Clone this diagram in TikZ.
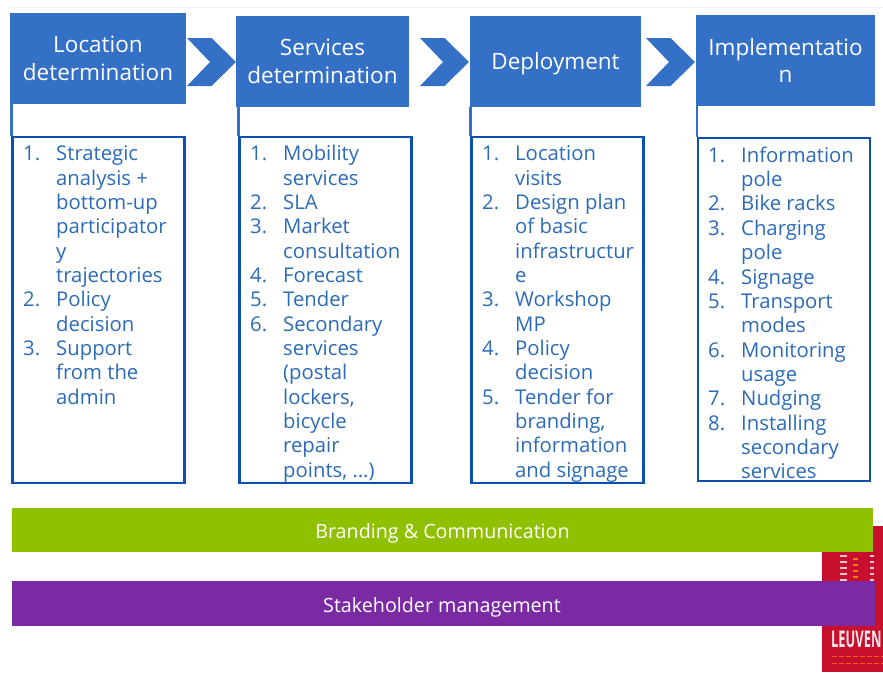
\documentclass[tikz,border=0pt]{standalone}
\usepackage{fontspec}
\setmainfont{Open Sans}
\definecolor{stepblue}{HTML}{3370C6}
\definecolor{listblue}{HTML}{0B50AE}
\definecolor{itemblue}{HTML}{2C6BB8}
\definecolor{bargreen}{HTML}{8FC100}
\definecolor{barpurple}{HTML}{7A2AA3}
\definecolor{logored}{HTML}{C8102E}
\newcommand{\lineh}{24.35}
\begin{document}
\begin{tikzpicture}[x=1pt,y=-1pt]
            \tikzstyle{stepbox}=[fill=stepblue,text=white,align=center,inner sep=0pt,font=\fontsize{22.5}{27.5}\selectfont]
            \tikzstyle{listbox}=[draw=listblue,line width=2.2pt,fill=white,minimum width=172pt,inner sep=0pt]
            \tikzstyle{chevron}=[fill=stepblue]
            \tikzstyle{num}=[anchor=north west,inner sep=0pt,text=itemblue,font=\fontsize{20.3}{24.35}\selectfont,execute at begin node=\strut]
            \tikzstyle{item}=[anchor=north west,inner sep=0pt,text=itemblue,align=left,font=\fontsize{20.3}{24.35}\selectfont]
            \tikzstyle{band}=[text=white,minimum width=861pt,minimum height=44pt,inner sep=0pt,text height=17pt,text depth=0pt,font=\fontsize{19.7}{22}\selectfont]
            \useasboundingbox (0,0) rectangle (883,672);
            \draw[black!6,line width=1pt] (10,7.5) -- (883,7.5);
            % logo
            \fill[logored] (822,526) rectangle (883,672);
            \foreach \y in {556,562,...,616} {
                \draw[white!75!logored,line width=2.5pt] (840,\y) -- (847,\y);
                \draw[orange,line width=1.5pt] (853,\y+3) -- (858,\y+3);
                \draw[white!75!logored,line width=1.5pt] (870,\y) -- (874,\y);
            }
            \node[inner sep=0pt,anchor=west,text=white!90!logored,font=\bfseries\fontsize{23}{24}\selectfont] (logo) at (831,639) {\scalebox{0.56}[1]{LEUVEN}};
            \foreach \y in {656,663} {
                \draw[orange!70!logored,line width=1pt,dash pattern=on 5pt off 2pt] (832,\y) -- (883,\y);
            }
            % steps
            \node[stepbox,minimum width=176pt,minimum height=91pt] (s1) at (98,58.5) {Location\\determination};
            \node[stepbox,minimum width=173pt,minimum height=91pt] (s2) at (322.5,61.5) {Services\\determination};
            \node[stepbox,minimum width=171pt,minimum height=91pt,text height=15pt,text depth=0pt] (s3) at (555.5,61.5) {Deployment};
            \node[stepbox,minimum width=179pt,minimum height=91pt] (s4) at (785.5,60.5) {Implementatio\\n};
            % chevrons
            \foreach \x in {187,420,646} {
                \fill[chevron] (\x,38) -- (\x+24.5,38) -- (\x+49,62) -- (\x+24.5,86) -- (\x,86) -- (\x+23,62) -- cycle;
            }
            % lists
            \node[listbox,minimum height=346pt] (l1) at (98.5,310) {};
            \node[listbox,minimum height=346pt] (l2) at (325.5,310) {};
            \node[listbox,minimum height=346pt] (l3) at (557.5,310) {};
            \node[listbox,minimum height=343pt] (l4) at (784,309.5) {};
            \foreach \a/\b in {s1/l1,s2/l2,s3/l3,s4/l4} {
                \draw[stepblue,line width=2.2pt] (\a.south -| \b.north west) -- (\b.north west);
            }
            % items of list 1
            \node[num] (n11) at (23,143.5) {1.};
            \node[item] (t11) at (56,143.5) {\strut Strategic\\analysis +\\bottom-up\\participator\\y\\trajectories};
            \node[num] (n12) at (23,143.5+6*\lineh) {2.};
            \node[item] (t12) at (56,143.5+6*\lineh) {\strut Policy\\decision};
            \node[num] (n13) at (23,143.5+8*\lineh) {3.};
            \node[item] (t13) at (56,143.5+8*\lineh) {\strut Support\\from the\\admin};
            % items of list 2
            \node[num] (n21) at (250,143.5) {1.};
            \node[item] (t21) at (283,143.5) {\strut Mobility\\services};
            \node[num] (n22) at (250,143.5+2*\lineh) {2.};
            \node[item] (t22) at (283,143.5+2*\lineh) {\strut SLA};
            \node[num] (n23) at (250,143.5+3*\lineh) {3.};
            \node[item] (t23) at (283,143.5+3*\lineh) {\strut Market\\consultation};
            \node[num] (n24) at (250,143.5+5*\lineh) {4.};
            \node[item] (t24) at (283,143.5+5*\lineh) {\strut Forecast};
            \node[num] (n25) at (250,143.5+6*\lineh) {5.};
            \node[item] (t25) at (283,143.5+6*\lineh) {\strut Tender};
            \node[num] (n26) at (250,143.5+7*\lineh) {6.};
            \node[item] (t26) at (283,143.5+7*\lineh) {\strut Secondary\\services\\(postal\\lockers,\\bicycle\\repair\\points, …)};
            % items of list 3
            \node[num] (n31) at (482,143.5) {1.};
            \node[item] (t31) at (515,143.5) {\strut Location\\visits};
            \node[num] (n32) at (482,143.5+2*\lineh) {2.};
            \node[item] (t32) at (515,143.5+2*\lineh) {\strut Design plan\\of basic\\infrastructur\\e};
            \node[num] (n33) at (482,143.5+6*\lineh) {3.};
            \node[item] (t33) at (515,143.5+6*\lineh) {\strut Workshop\\MP};
            \node[num] (n34) at (482,143.5+8*\lineh) {4.};
            \node[item] (t34) at (515,143.5+8*\lineh) {\strut Policy\\decision};
            \node[num] (n35) at (482,143.5+10*\lineh) {5.};
            \node[item] (t35) at (515,143.5+10*\lineh) {\strut Tender for\\branding,\\information\\and signage};
            % items of list 4
            \node[num] (n41) at (708,145) {1.};
            \node[item] (t41) at (741,145) {\strut Information\\pole};
            \node[num] (n42) at (708,145+2*\lineh) {2.};
            \node[item] (t42) at (741,145+2*\lineh) {\strut Bike racks};
            \node[num] (n43) at (708,145+3*\lineh) {3.};
            \node[item] (t43) at (741,145+3*\lineh) {\strut Charging\\pole};
            \node[num] (n44) at (708,145+5*\lineh) {4.};
            \node[item] (t44) at (741,145+5*\lineh) {\strut Signage};
            \node[num] (n45) at (708,145+6*\lineh) {5.};
            \node[item] (t45) at (741,145+6*\lineh) {\strut Transport\\modes};
            \node[num] (n46) at (708,145+8*\lineh) {6.};
            \node[item] (t46) at (741,145+8*\lineh) {\strut Monitoring\\usage};
            \node[num] (n47) at (708,145+10*\lineh) {7.};
            \node[item] (t47) at (741,145+10*\lineh) {\strut Nudging};
            \node[num] (n48) at (708,145+11*\lineh) {8.};
            \node[item] (t48) at (741,145+11*\lineh) {\strut Installing\\secondary\\services};
            % bars
            \node[band,fill=bargreen] (b1) at (442.5,530) {Branding \& Communication};
            \node[band,fill=barpurple,minimum width=863pt,minimum height=45pt] (b2) at (443.5,603.5) {\hspace*{-3pt}Stakeholder management};
        \end{tikzpicture}
\end{document}
